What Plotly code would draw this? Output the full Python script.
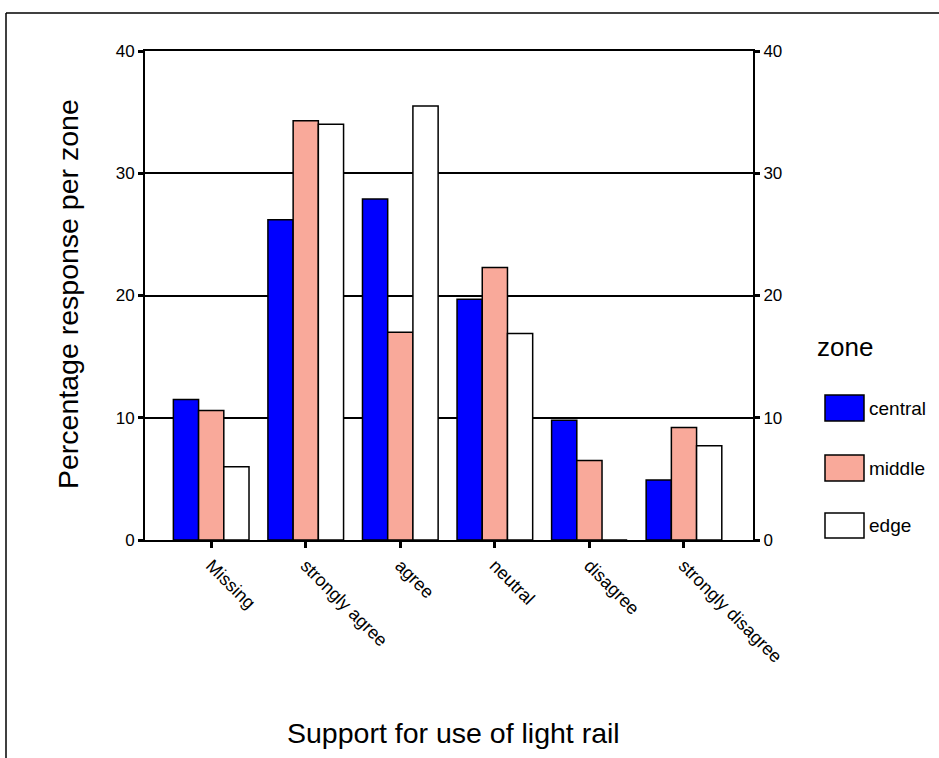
import plotly.graph_objects as go

categories = ["Missing", "strongly agree", "agree", "neutral", "disagree", "strongly disagree"]
central = [11.5, 26.2, 27.9, 19.7, 9.8, 4.9]
middle = [10.6, 34.3, 17.0, 22.3, 6.5, 9.2]
edge = [6.0, 34.0, 35.5, 16.9, 0.0, 7.7]
zones = ["central", "middle", "edge"]
zone_colors = ["#0000FF", "#F9A99A", "#FFFFFF"]
y_ticks = [0, 10, 20, 30, 40]

FONT = "Liberation Sans, Arial, sans-serif"
W, H = 939, 758
L, R, T, B = 145, 186, 51, 218
PW, PH = W - L - R, H - T - B


def px(x):
    return (x - L) / PW


def py(y):
    return (H - B - y) / PH


fig = go.Figure()
for name, vals, col in zip(zones, [central, middle, edge], zone_colors):
    fig.add_trace(go.Bar(
        x=categories, y=vals, name=name,
        marker=dict(color=col, line=dict(color="black", width=1.5)),
        showlegend=False,
    ))

# invisible trace to activate right-hand axis
fig.add_trace(go.Scatter(x=categories, y=central, yaxis="y2", mode="markers",
                         marker=dict(opacity=0), showlegend=False, hoverinfo="skip"))

axis_common = dict(
    range=[0, 40], tickvals=y_ticks, ticktext=[str(v) for v in y_ticks],
    showline=True, linecolor="black", linewidth=2,
    ticks="outside", ticklen=5, tickwidth=3, tickcolor="black",
    tickfont=dict(family=FONT, size=17, color="black"),
    zeroline=False, fixedrange=True,
)

fig.update_layout(
    width=W, height=H, autosize=False,
    margin=dict(l=L, r=R, t=T, b=B),
    paper_bgcolor="white", plot_bgcolor="white",
    barmode="group", bargap=0.2, bargroupgap=0,
    font=dict(family=FONT, color="black"),
    xaxis=dict(
        type="category", range=[-0.7, 5.73],
        showline=True, linecolor="black", linewidth=2, mirror=True,
        ticks="outside", ticklen=6, tickwidth=3, tickcolor="black",
        tickangle=45, tickfont=dict(family=FONT, size=18, color="black"),
        showgrid=False, zeroline=False,
    ),
    yaxis=dict(showgrid=True, gridcolor="black", gridwidth=1.5, **axis_common),
    yaxis2=dict(overlaying="y", side="right", showgrid=False, **axis_common),
)

shapes = []
annotations = []

# outer frame
top_y = py(13)
left_x = px(6)
shapes.append(dict(type="line", xref="paper", yref="paper", x0=left_x, x1=1.4,
                   y0=top_y, y1=top_y, line=dict(color="black", width=1.5)))
shapes.append(dict(type="line", xref="paper", yref="paper", x0=left_x, x1=left_x,
                   y0=top_y, y1=-0.6, line=dict(color="black", width=1.5)))

# legend
annotations.append(dict(text="zone", xref="paper", yref="paper", x=px(815), y=py(347),
                        xanchor="left", yanchor="middle", showarrow=False,
                        font=dict(family=FONT, size=26, color="black")))
sw = [(395, 421), (455, 481), (513, 538)]
for (t0, t1), name, col in zip(sw, zones, zone_colors):
    shapes.append(dict(type="rect", xref="paper", yref="paper",
                       x0=px(825), x1=px(864), y0=py(t1), y1=py(t0),
                       fillcolor=col, line=dict(color="black", width=1.5)))
    annotations.append(dict(text=name, xref="paper", yref="paper", x=px(867),
                            y=py((t0 + t1) / 2), xanchor="left", yanchor="middle",
                            showarrow=False, font=dict(family=FONT, size=19, color="black")))

# axis titles
annotations.append(dict(text="Percentage response per zone", xref="paper", yref="paper",
                        x=px(68), y=py(294), textangle=-90, showarrow=False,
                        xanchor="center", yanchor="middle",
                        font=dict(family=FONT, size=28.5, color="black")))
annotations.append(dict(text="Support for use of light rail", xref="paper", yref="paper",
                        x=px(453), y=py(733), showarrow=False,
                        xanchor="center", yanchor="middle",
                        font=dict(family=FONT, size=28.5, color="black")))

fig.update_layout(shapes=shapes, annotations=annotations)
fig.write_html("out.html", config={"displayModeBar": False},
               post_script="document.body.style.margin='0';")
